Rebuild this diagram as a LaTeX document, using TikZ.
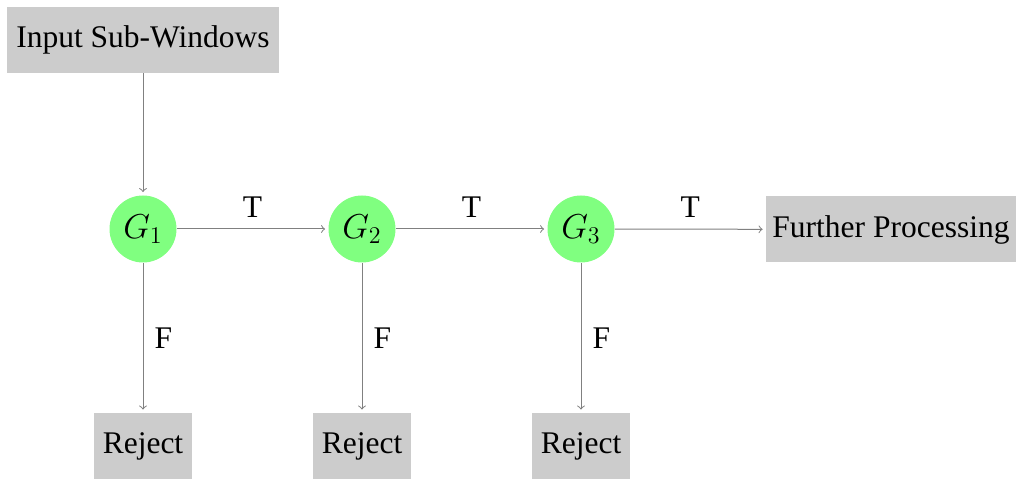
\documentclass[tikz,border=0pt]{standalone}
\usepackage{fontspec}
\setmainfont{Liberation Serif}
\begin{document}
\begin{tikzpicture}[x=0.5pt,y=-0.5pt,
  every node/.style={font=\fontsize{15.75}{19}\selectfont},
  box/.style={fill=black!20, inner sep=0pt, minimum height=33pt},
  gate/.style={circle, fill=green!50, inner sep=0pt, minimum size=33.5pt,
    font=\fontsize{16.5}{20}\selectfont},
  link/.style={draw=gray, line width=0.5pt, ->, shorten >=1.5pt},
  lbl/.style={inner sep=0pt}]
\useasboundingbox (0,0) rectangle (1018,480);
% source and sink boxes
\node[box, minimum width=136pt] (in) at (143,40) {Input Sub-Windows};
\node[box, minimum width=125pt] (fp) at (891,229.5) {Further Processing};
% cascade of classifier stages
\node[gate] (g1) at (143,229) {$G_1$};
\node[gate] (g2) at (362,229) {$G_2$};
\node[gate] (g3) at (581,229) {$G_3$};
% rejection outputs
\node[box, minimum width=49pt] (r1) at (143,446) {Reject};
\node[box, minimum width=49pt] (r2) at (362,446) {Reject};
\node[box, minimum width=49pt] (r3) at (581,446) {Reject};
\draw[link] (in) -- (g1);
\draw[link] (g1) -- node[lbl, above=5.5pt] {T} (g2);
\draw[link] (g2) -- node[lbl, above=5.5pt] {T} (g3);
\draw[link] (g3) -- node[lbl, above=5.5pt] {T} (fp);
\draw[link] (g1) -- node[lbl, right=5.5pt] {F} (r1);
\draw[link] (g2) -- node[lbl, right=5.5pt] {F} (r2);
\draw[link] (g3) -- node[lbl, right=5.5pt] {F} (r3);
\end{tikzpicture}
\end{document}
